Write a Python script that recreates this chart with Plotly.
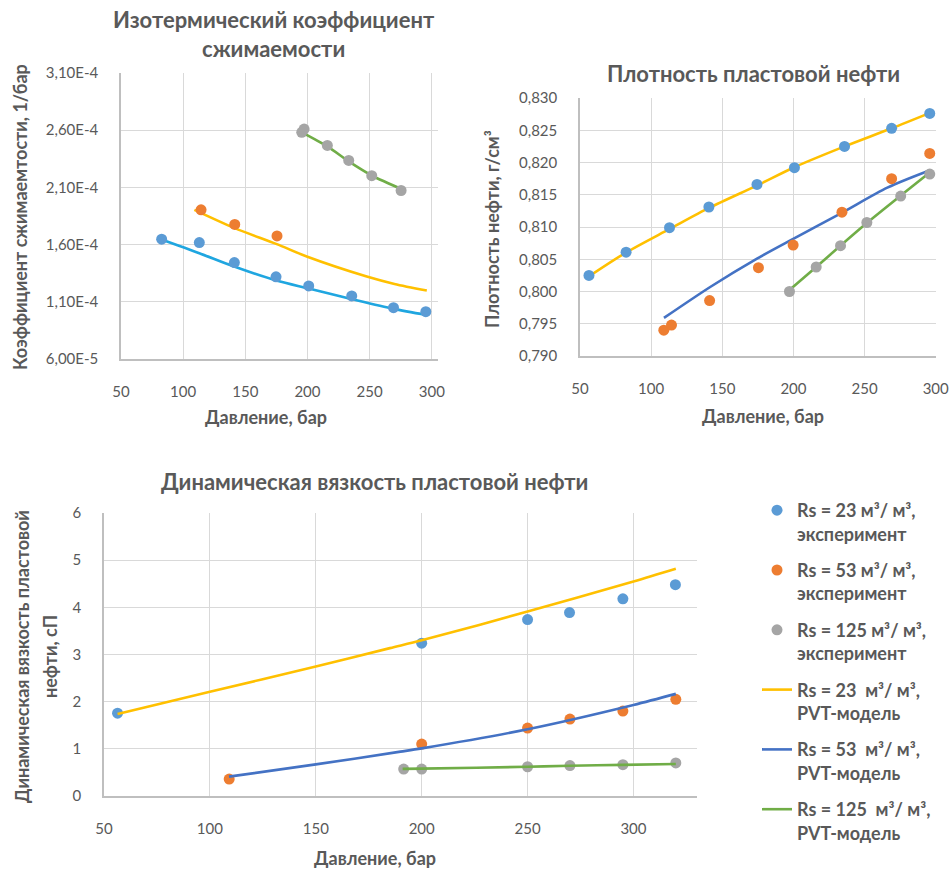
import plotly.graph_objects as go

W, H = 949, 869

# ---------------- DATA ----------------
# Chart 1: isothermal compressibility (1/bar)
c1_exp23_x = [82.7, 113, 141.2, 174.7, 201, 235.6, 269.2, 295.2]
c1_exp23_y = [1.647e-4, 1.618e-4, 1.443e-4, 1.318e-4, 1.239e-4, 1.151e-4, 1.049e-4, 1.014e-4]
c1_exp53_x = [114.4, 141.5, 175.5]
c1_exp53_y = [1.904e-4, 1.776e-4, 1.676e-4]
c1_exp125_x = [195.4, 197.3, 216, 233.2, 251.7, 275.3]
c1_exp125_y = [2.581e-4, 2.610e-4, 2.467e-4, 2.336e-4, 2.202e-4, 2.073e-4]
c1_mod23_x = [82, 113, 141, 175, 201, 236, 269, 296]
c1_mod23_y = [1.647e-4, 1.525e-4, 1.408e-4, 1.286e-4, 1.216e-4, 1.122e-4, 1.038e-4, 0.985e-4]
c1_mod53_x = [109, 141.5, 175.3, 199.4, 247.7, 270, 296]
c1_mod53_y = [1.904e-4, 1.744e-4, 1.604e-4, 1.496e-4, 1.321e-4, 1.256e-4, 1.198e-4]
c1_mod125_x = [194, 216, 233.2, 251.7, 277]
c1_mod125_y = [2.59e-4, 2.458e-4, 2.327e-4, 2.204e-4, 2.079e-4]
c1_xticks = [50, 100, 150, 200, 250, 300]
c1_yticks = [6.0e-5, 1.1e-4, 1.6e-4, 2.1e-4, 2.6e-4, 3.1e-4]
c1_yticktext = ["6,00E-5", "1,10E-4", "1,60E-4", "2,10E-4", "2,60E-4", "3,10E-4"]

# Chart 2: reservoir oil density (g/cm3)
c2_exp23_x = [56.3, 82.4, 112.9, 140.6, 174.4, 200.7, 235.9, 269, 295.8]
c2_exp23_y = [0.8025, 0.8061, 0.8099, 0.8131, 0.8166, 0.8192, 0.8225, 0.8253, 0.8276]
c2_exp53_x = [108.9, 114.3, 141.1, 175.4, 199.8, 234.1, 269, 295.8]
c2_exp53_y = [0.7940, 0.7948, 0.7986, 0.8037, 0.8072, 0.8123, 0.8175, 0.8214]
c2_exp125_x = [197.2, 216, 233.1, 251.6, 275.4, 295.8]
c2_exp125_y = [0.8000, 0.8038, 0.8071, 0.8107, 0.8148, 0.8182]
c2_mod23_x = [56, 82, 113, 141, 175, 201, 236, 269, 296]
c2_mod23_y = [0.8023, 0.8060, 0.8097, 0.8130, 0.8165, 0.8193, 0.8225, 0.8253, 0.8277]
c2_mod53_x = [109, 141.5, 174.4, 200.2, 234, 266, 296]
c2_mod53_y = [0.7959, 0.8007, 0.8051, 0.8082, 0.8122, 0.8161, 0.8188]
c2_mod125_x = [196, 216, 233, 252, 275, 296]
c2_mod125_y = [0.8000, 0.8038, 0.8071, 0.8107, 0.8148, 0.8185]
c2_xticks = [50, 100, 150, 200, 250, 300]

# Chart 3: dynamic viscosity (cP)
c3_exp23_x = [56.4, 200, 250, 269.8, 295, 319.8]
c3_exp23_y = [1.756, 3.24, 3.74, 3.89, 4.18, 4.48]
c3_exp53_x = [109.1, 200, 250, 270, 295, 320]
c3_exp53_y = [0.36, 1.10, 1.44, 1.63, 1.80, 2.05]
c3_exp125_x = [191.5, 200, 250, 270, 295, 320]
c3_exp125_y = [0.57, 0.57, 0.62, 0.645, 0.665, 0.70]
c3_mod23_x = [56.4, 100, 150, 185, 200, 250, 300, 320]
c3_mod23_y = [1.74, 2.21, 2.745, 3.135, 3.30, 3.91, 4.55, 4.82]
c3_mod53_x = [109, 150, 190, 200, 250, 300, 320]
c3_mod53_y = [0.41, 0.67, 0.94, 1.01, 1.415, 1.93, 2.165]
c3_mod125_x = [191, 200, 250, 270, 295, 320]
c3_mod125_y = [0.575, 0.58, 0.62, 0.64, 0.66, 0.68]
c3_xticks = [50, 100, 150, 200, 250, 300]

legend_names = [
    "Rs = 23 м³/ м³,<br>эксперимент",
    "Rs = 53 м³/ м³,<br>эксперимент",
    "Rs = 125 м³/ м³,<br>эксперимент",
    "Rs = 23  м³/ м³,<br>PVT-модель",
    "Rs = 53  м³/ м³,<br>PVT-модель",
    "Rs = 125  м³/ м³,<br>PVT-модель",
]

# ---------------- STYLE ----------------
BLUE_PT = "#5B9BD5"
ORANGE_PT = "#ED7D31"
GRAY_PT = "#A5A5A5"
YELLOW = "#FFC000"
BLUE_LN = "#4472C4"
CYAN_LN = "#1FA6E0"
GREEN = "#70AD47"
TXT = "#595959"
GRID = "#D9D9D9"
AXLINE = "#BFBFBF"
FONT = "Lato, 'Open Sans', sans-serif"
MS = 11
LW = 2.6


def px(x):
    return x / W


def py(y):
    return 1 - y / H


fig = go.Figure()


def markers(x, y, color, xa, ya, name=None, show=False, group=None):
    fig.add_trace(go.Scatter(x=x, y=y, mode="markers", xaxis=xa, yaxis=ya,
                             marker=dict(color=color, size=MS),
                             name=name, showlegend=show, legendgroup=group))


def line(x, y, color, xa, ya, name=None, show=False, group=None):
    fig.add_trace(go.Scatter(x=x, y=y, mode="lines", xaxis=xa, yaxis=ya,
                             line=dict(color=color, width=LW, shape="spline", smoothing=0.8),
                             name=name, showlegend=show, legendgroup=group))


# chart 1
line(c1_mod23_x, c1_mod23_y, CYAN_LN, "x", "y")
line(c1_mod53_x, c1_mod53_y, YELLOW, "x", "y")
line(c1_mod125_x, c1_mod125_y, GREEN, "x", "y")
markers(c1_exp23_x, c1_exp23_y, BLUE_PT, "x", "y")
markers(c1_exp53_x, c1_exp53_y, ORANGE_PT, "x", "y")
markers(c1_exp125_x, c1_exp125_y, GRAY_PT, "x", "y")

# chart 2
line(c2_mod23_x, c2_mod23_y, YELLOW, "x2", "y2")
line(c2_mod53_x, c2_mod53_y, BLUE_LN, "x2", "y2")
line(c2_mod125_x, c2_mod125_y, GREEN, "x2", "y2")
markers(c2_exp23_x, c2_exp23_y, BLUE_PT, "x2", "y2")
markers(c2_exp53_x, c2_exp53_y, ORANGE_PT, "x2", "y2")
markers(c2_exp125_x, c2_exp125_y, GRAY_PT, "x2", "y2")

# chart 3 (with legend)
markers(c3_exp23_x, c3_exp23_y, BLUE_PT, "x3", "y3", legend_names[0], True, "g1")
markers(c3_exp53_x, c3_exp53_y, ORANGE_PT, "x3", "y3", legend_names[1], True, "g2")
markers(c3_exp125_x, c3_exp125_y, GRAY_PT, "x3", "y3", legend_names[2], True, "g3")
line(c3_mod23_x, c3_mod23_y, YELLOW, "x3", "y3", legend_names[3], True, "g4")
line(c3_mod53_x, c3_mod53_y, BLUE_LN, "x3", "y3", legend_names[4], True, "g5")
line(c3_mod125_x, c3_mod125_y, GREEN, "x3", "y3", legend_names[5], True, "g6")

tickfont = dict(family=FONT, size=15, color=TXT)
common = dict(showgrid=True, gridcolor=GRID, gridwidth=1, zeroline=False,
              showline=True, linecolor=AXLINE, linewidth=1.5, ticks="",
              tickfont=tickfont, fixedrange=True, automargin=False,
              ticklabeloverflow="allow")

fig.update_layout(
    width=W, height=H, autosize=False,
    margin=dict(l=0, r=0, t=0, b=0, autoexpand=False),
    paper_bgcolor="white", plot_bgcolor="white",
    separators=", ",
    font=dict(family=FONT, color=TXT),
    xaxis=dict(domain=[px(121), px(438)], range=[50, 305], tickvals=c1_xticks,
               anchor="y", ticklabelstandoff=18, **common),
    yaxis=dict(domain=[py(359), py(73)], range=[6.0e-5, 3.1e-4], tickvals=c1_yticks, ticktext=c1_yticktext,
               anchor="x", ticklabelstandoff=18, **common),
    xaxis2=dict(domain=[px(580), px(936)], range=[50, 300.2], tickvals=c2_xticks,
                anchor="y2", ticklabelstandoff=18, **common),
    yaxis2=dict(domain=[py(356), py(98)], range=[0.790, 0.830], dtick=0.005, tickformat=".3f",
                anchor="x2", ticklabelstandoff=18, **common),
    xaxis3=dict(domain=[px(104), px(697)], range=[50, 330], tickvals=c3_xticks,
                anchor="y3", ticklabelstandoff=18, **common),
    yaxis3=dict(domain=[py(796), py(513)], range=[0, 6], dtick=1,
                anchor="x3", ticklabelstandoff=18, **common),
    legend=dict(x=px(757), y=py(492), xanchor="left", yanchor="top",
                font=dict(family=FONT, size=18, color=TXT, weight="bold"),
                traceorder="grouped", tracegroupgap=10, valign="top",
                bgcolor="rgba(0,0,0,0)", itemwidth=30),
)

title_font = dict(family=FONT, size=22, color=TXT, weight="bold")
axis_font = dict(family=FONT, size=18, color=TXT, weight="bold")


def ann(text, x, y, font, angle=0):
    fig.add_annotation(text=text, x=px(x), y=py(y), xref="paper", yref="paper",
                       showarrow=False, xanchor="center", yanchor="middle",
                       textangle=angle, font=font, align="center")


ann("Изотермический коэффициент<br>сжимаемости", 274, 34, title_font)
ann("Плотность пластовой нефти", 753, 73, title_font)
ann("Динамическая вязкость пластовой нефти", 374, 481, title_font)

ann("Давление, бар", 266, 417, axis_font)
ann("Давление, бар", 763, 416, axis_font)
ann("Давление, бар", 375, 858, axis_font)

ann("Коэффициент сжимаемтости, 1/бар", 20, 217, axis_font, -90)
ann("Плотность нефти, г/см³", 492, 229, axis_font, -90)
ann("Динамическая вязкость пластовой", 22, 657, axis_font, -90)
ann("нефти, сП", 50, 657, axis_font, -90)

fig.write_html("out.html")
